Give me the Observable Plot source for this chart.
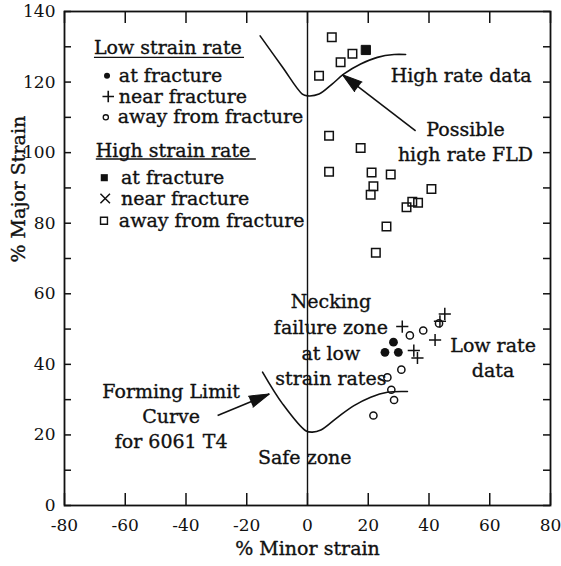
<!DOCTYPE html>
<html>
<head>
<meta charset="utf-8">
<script src="https://cdn.jsdelivr.net/npm/d3@7"></script>
<script src="https://cdn.jsdelivr.net/npm/@observablehq/plot@0.6"></script>
<style>
  html, body { margin: 0; padding: 0; background: #fff; }
  #chart svg { display: block; }
</style>
</head>
<body>
<div id="chart"></div>
<script>
// Axis ticks
const xTicks = [-80, -60, -40, -20, 0, 20, 40, 60, 80];
const yTicks = [0, 20, 40, 60, 80, 100, 120, 140];
const ySideTicks = [0, 10, 20, 30, 40, 50, 60, 70, 80, 90, 100, 110, 120, 130, 140];
const xLabel = "% Minor strain";
const yLabel = "% Major Strain";

// Low strain rate measurements (% minor, % major)
const lowAtFracture = [
  {x: 28.3, y: 46.3}, {x: 25.5, y: 43.4}, {x: 29.9, y: 43.4}
];
const lowNearFracture = [
  {x: 31.2, y: 50.7}, {x: 35.0, y: 43.9}, {x: 36.2, y: 41.8},
  {x: 42.0, y: 46.9}, {x: 45.2, y: 54.3}, {x: 43.6, y: 52.2}
];
const lowAwayFracture = [
  {x: 33.7, y: 48.2}, {x: 38.1, y: 49.6}, {x: 43.3, y: 51.6},
  {x: 30.9, y: 38.5}, {x: 26.3, y: 36.3}, {x: 27.6, y: 32.8},
  {x: 28.5, y: 29.9}, {x: 21.7, y: 25.5}
];

// High strain rate measurements
const highAtFracture = [{x: 19.2, y: 129.1}];
const highAwayFracture = [
  {x: 8.0, y: 132.7}, {x: 14.8, y: 128.0}, {x: 10.9, y: 125.6},
  {x: 3.8, y: 121.8}, {x: 7.1, y: 104.8}, {x: 17.5, y: 101.3},
  {x: 7.1, y: 94.6}, {x: 21.1, y: 94.4}, {x: 27.4, y: 93.8},
  {x: 21.7, y: 90.5}, {x: 20.8, y: 88.1}, {x: 40.8, y: 89.7},
  {x: 32.6, y: 84.5}, {x: 34.5, y: 86.1}, {x: 36.4, y: 85.8},
  {x: 26.0, y: 79.1}, {x: 22.5, y: 71.6}
];

// Forming limit curves
const highRateFLD = [
  {x: -15.6, y: 133.1}, {x: -8.2, y: 124.2}, {x: -1.7, y: 116.6},
  {x: 0.0, y: 116.1}, {x: 3.8, y: 116.6}, {x: 8.2, y: 119.5},
  {x: 12.0, y: 122.3}, {x: 17.5, y: 125.1}, {x: 23.0, y: 127.0},
  {x: 28.5, y: 127.8}, {x: 32.3, y: 127.8}
];
const formingLimit6061 = [
  {x: -14.8, y: 37.8}, {x: -8.2, y: 28.8}, {x: -0.6, y: 21.2},
  {x: 1.6, y: 20.8}, {x: 4.4, y: 21.4}, {x: 9.9, y: 25.0},
  {x: 15.3, y: 28.3}, {x: 20.8, y: 30.7}, {x: 26.3, y: 32.1},
  {x: 32.9, y: 32.3}
];

// Annotation arrows (tail -> tip, in data units)
const arrows = [
  {x1: 35.6, y1: 106.2, x2: 11.5, y2: 122.1},
  {x1: -29.6, y1: 25.5, x2: -12.6, y2: 31.6}
];

// Legend
const legendHeadings = [
  {text: "Low strain rate", x: -70.3, y: 129.6, x2: -20.9, uy: 127.0},
  {text: "High strain rate", x: -69.7, y: 100.6, x2: -17.0, uy: 98.2}
];
const legendEntries = [
  {text: "at fracture", x: -62.1, y: 121.8},
  {text: "near fracture", x: -62.1, y: 115.9},
  {text: "away from fracture", x: -62.5, y: 110.0},
  {text: "at fracture", x: -61.4, y: 92.9},
  {text: "near fracture", x: -61.4, y: 87.0},
  {text: "away from fracture", x: -62.1, y: 80.7}
];
const legendLowAt = [{x: -66.0, y: 121.8}];
const legendLowNear = [{x: -65.6, y: 115.9}];
const legendLowAway = [{x: -66.4, y: 110.0}];
const legendHighAt = [{x: -66.9, y: 92.9}];
const legendHighNear = [{x: -66.6, y: 87.0}];
const legendHighAway = [{x: -67.0, y: 80.7}];

// Annotations
const leftNotes = [
  {text: "High rate data", x: 27.4, y: 121.8}
];
const centeredNotes = [
  {text: "Possible", x: 52.0, y: 106.5},
  {text: "high rate FLD", x: 52.0, y: 99.4},
  {text: "Necking", x: 7.7, y: 57.6},
  {text: "failure zone", x: 7.7, y: 50.2},
  {text: "at low", x: 7.7, y: 43.0},
  {text: "strain rates", x: 7.7, y: 35.9},
  {text: "Low rate", x: 61.1, y: 45.3},
  {text: "data", x: 61.1, y: 38.2},
  {text: "Forming Limit", x: -44.9, y: 32.1},
  {text: "Curve", x: -44.9, y: 25.0},
  {text: "for 6061 T4", x: -44.9, y: 17.9},
  {text: "Safe zone", x: -0.9, y: 13.6}
];

const W = 561, H = 566;
const mL = 64, mR = 11, mT = 11, mB = 61;
const innerW = W - mL - mR, innerH = H - mT - mB;
const kx = innerW / 160, ky = innerH / 140;
const headAngle = (a) => Math.atan2((a.x2 - a.x1) * kx, (a.y2 - a.y1) * ky) * 180 / Math.PI;

const serif = "DejaVu Serif";
const ink = "#111";
const textStyle = {fontSize: 19, fill: ink, stroke: ink, strokeWidth: 0.35};

const chart = Plot.plot({
  width: W,
  height: H,
  marginLeft: mL,
  marginRight: mR,
  marginTop: mT,
  marginBottom: mB,
  style: {fontFamily: serif, background: "#fff", color: ink},
  x: {domain: [-80, 80]},
  y: {domain: [0, 140]},
  marks: [
    Plot.frame({stroke: ink, strokeWidth: 1.8}),
    Plot.ruleX([0], {stroke: ink, strokeWidth: 1.4}),
    Plot.tickX(xTicks, {x: d => d, insetTop: innerH - 12, stroke: ink, strokeWidth: 1.5}),
    Plot.tickX(xTicks, {x: d => d, insetBottom: innerH - 12, stroke: ink, strokeWidth: 1.5}),
    Plot.tickY(ySideTicks, {y: d => d, insetRight: innerW - 7, stroke: ink, strokeWidth: 1.5}),
    Plot.tickY(ySideTicks, {y: d => d, insetLeft: innerW - 7, stroke: ink, strokeWidth: 1.5}),

    // axes: tick labels and titles
    Plot.axisX(xTicks, {tickSize: 0, tickPadding: 13, tickFormat: d => String(d), fontSize: 17,
      fill: ink, stroke: ink, strokeWidth: 0.3, label: null}),
    Plot.axisY(yTicks, {tickSize: 0, tickPadding: 9, tickFormat: d => String(d), fontSize: 17,
      fill: ink, stroke: ink, strokeWidth: 0.3, label: null}),
    Plot.text([xLabel], {text: d => d, frameAnchor: "bottom", dy: 49, ...textStyle}),
    Plot.text([yLabel], {text: d => d, frameAnchor: "left", rotate: -90, dx: -46, dy: 4, ...textStyle}),

    // forming limit curves
    Plot.line(highRateFLD, {x: "x", y: "y", curve: "catmull-rom", stroke: ink, strokeWidth: 1.6}),
    Plot.line(formingLimit6061, {x: "x", y: "y", curve: "catmull-rom", stroke: ink, strokeWidth: 1.6}),

    // arrows: shaft + filled head
    Plot.link(arrows, {x1: "x1", y1: "y1", x2: "x2", y2: "y2", stroke: ink, strokeWidth: 1.6}),
    Plot.vector(arrows, {x: "x2", y: "y2", rotate: headAngle, length: 20, anchor: "end",
      shape: "spike", r: 6, fill: ink, stroke: ink, strokeWidth: 1}),

    // measurements
    Plot.dot(highAwayFracture, {x: "x", y: "y", symbol: "square", r: 4.8, fill: "none", stroke: ink, strokeWidth: 1.5}),
    Plot.dot(highAtFracture, {x: "x", y: "y", symbol: "square", r: 5.2, fill: ink, stroke: ink, strokeWidth: 1}),
    Plot.dot(lowAwayFracture, {x: "x", y: "y", r: 3.6, fill: "none", stroke: ink, strokeWidth: 1.5}),
    Plot.dot(lowNearFracture, {x: "x", y: "y", symbol: "plus", r: 4.0, stroke: ink, strokeWidth: 1.5}),
    Plot.dot(lowAtFracture, {x: "x", y: "y", r: 4.4, fill: ink}),

    // legend
    Plot.text(legendHeadings, {x: "x", y: "y", text: "text", textAnchor: "start", ...textStyle}),
    Plot.link(legendHeadings, {x1: "x", x2: "x2", y1: "uy", y2: "uy", stroke: ink, strokeWidth: 1.4}),
    Plot.text(legendEntries, {x: "x", y: "y", text: "text", textAnchor: "start", ...textStyle}),
    Plot.dot(legendLowAt, {x: "x", y: "y", r: 3, fill: ink}),
    Plot.dot(legendLowNear, {x: "x", y: "y", symbol: "plus", r: 3.8, stroke: ink, strokeWidth: 1.6}),
    Plot.dot(legendLowAway, {x: "x", y: "y", r: 2.6, fill: "none", stroke: ink, strokeWidth: 1.3}),
    Plot.dot(legendHighAt, {x: "x", y: "y", symbol: "square", r: 4, fill: ink}),
    Plot.dot(legendHighNear, {x: "x", y: "y", symbol: "times", r: 4.4, stroke: ink, strokeWidth: 1.5}),
    Plot.dot(legendHighAway, {x: "x", y: "y", symbol: "square", r: 3.9, fill: "none", stroke: ink, strokeWidth: 1.4}),

    // annotations
    Plot.text(leftNotes, {x: "x", y: "y", text: "text", textAnchor: "start", ...textStyle}),
    Plot.text(centeredNotes, {x: "x", y: "y", text: "text", textAnchor: "middle", ...textStyle})
  ]
});

document.getElementById("chart").append(chart);
</script>
</body>
</html>
